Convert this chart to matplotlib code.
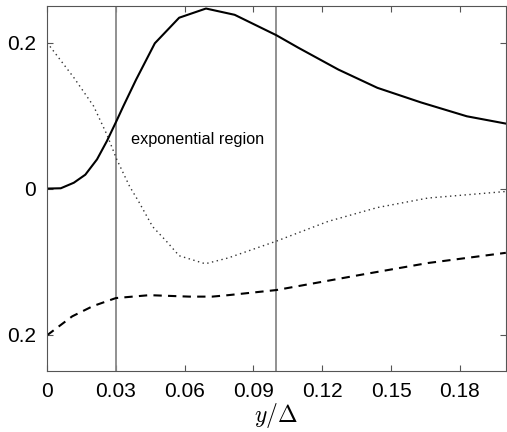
import numpy as np
import matplotlib
matplotlib.use("Agg")
from matplotlib import pyplot as plt

plt.rcParams['font.family'] = ['Liberation Sans', 'DejaVu Sans']
plt.rcParams['mathtext.fontset'] = 'cm'

# solid curve
x_solid = [0.0, 0.006, 0.0117, 0.0167, 0.0218, 0.0261, 0.0302, 0.0333, 0.0388,
           0.047, 0.0576, 0.0693, 0.0818, 0.1, 0.1095, 0.127, 0.144, 0.163,
           0.183, 0.2]
y_solid = [0.0, 0.0004, 0.008, 0.019, 0.040, 0.065, 0.092, 0.113, 0.149,
           0.199, 0.234, 0.2466, 0.238, 0.21, 0.193, 0.163, 0.138, 0.118,
           0.099, 0.089]

# dotted curve
x_dot = [0.0, 0.0117, 0.0203, 0.0261, 0.0304, 0.036, 0.040, 0.046, 0.052, 0.0576,
         0.069, 0.079, 0.1, 0.1225, 0.144, 0.166, 0.2]
y_dot = [0.2, 0.152, 0.113, 0.074, 0.040, 0.003, -0.018, -0.052, -0.072, -0.092,
         -0.103, -0.095, -0.072, -0.045, -0.026, -0.013, -0.004]

# dashed curve
x_dash = [0.0, 0.011, 0.020, 0.030, 0.0446, 0.062, 0.072, 0.079, 0.1, 0.137, 0.166, 0.2]
y_dash = [-0.201, -0.175, -0.161, -0.150, -0.146, -0.148, -0.148, -0.146, -0.139,
          -0.118, -0.102, -0.088]

x_ticks = [0, 0.03, 0.06, 0.09, 0.12, 0.15, 0.18]
x_labels = ['0', '0.03', '0.06', '0.09', '0.12', '0.15', '0.18']
y_ticks = [-0.2, 0, 0.2]
y_labels = ['0.2', '0', '0.2']
region = [0.03, 0.1]

fig = plt.figure(figsize=(5.07, 4.32), dpi=100)
ax = fig.add_axes([0.0927, 0.141, 0.905, 0.845])

for xv in region:
    ax.axvline(xv, color='#888888', linewidth=1.3)

ax.plot(x_solid, y_solid, color='black', linewidth=1.5)
ax.plot(x_dot, y_dot, color='#333333', linewidth=1.0, linestyle=(0, (1, 2.5)))
ax.plot(x_dash, y_dash, color='black', linewidth=1.5, linestyle=(0, (4, 3)))

ax.text(0.0364, 0.067, 'exponential region', fontsize=11.7, va='center')

ax.set_xlim(0, 0.2)
ax.set_ylim(-0.25, 0.25)
ax.set_xticks(x_ticks)
ax.set_xticklabels(x_labels)
ax.set_yticks(y_ticks)
ax.set_yticklabels(y_labels)
ax.tick_params(direction='in', top=True, right=True, length=4, labelsize=15,
               color='#555555', pad=8)
for s in ax.spines.values():
    s.set_color('#555555')
    s.set_linewidth(0.8)
ax.set_xlabel(r'$y/\Delta$', fontsize=17, labelpad=0)

fig.savefig('out.png', dpi=100)
